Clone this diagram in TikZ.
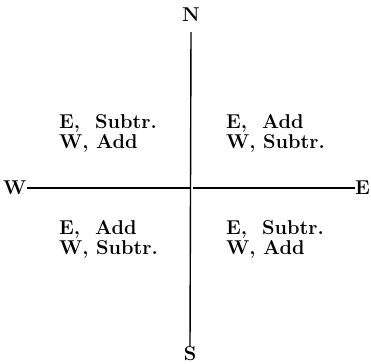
\documentclass[tikz,border=0pt]{standalone}
\usepackage{fontspec}
\usepackage{tikz}
\usetikzlibrary{positioning}

\begin{document}
\begin{tikzpicture}[x=1pt, y=1pt,
  every node/.style={inner sep=0pt, font=\fontsize{20}{20}\selectfont\bfseries},
  rule/.style={line width=1.4pt},
  rules/.style={align=left, anchor=north west}
]
\useasboundingbox (0,0) rectangle (371,363);
% compass points
\node (N) at (191,348) {N};
\node[anchor=south] (S) at (190,2) {S};
\node[anchor=west] (W) at (3,175) {W};
\node[anchor=east] (E) at (370,175) {E};
\coordinate (O) at (190.5,175);
\draw[rule] ([yshift=-10pt]N.south) -- (S.north);
\draw[rule] (W.east) -- (O);
\draw[rule] ([xshift=2.5pt]O) -- (E.west);
% quadrants
\node[rules] (NW) at (59,249) {E,\ \ Subtr.\\W, Add};
\node[rules] (NE) at (226,249) {E,\ \ Add\\W, Subtr.};
\node[rules] (SW) at (59,143) {E,\ \ Add\\W, Subtr.};
\node[rules] (SE) at (226,143) {E,\ \ Subtr.\\W, Add};
\end{tikzpicture}
\end{document}
